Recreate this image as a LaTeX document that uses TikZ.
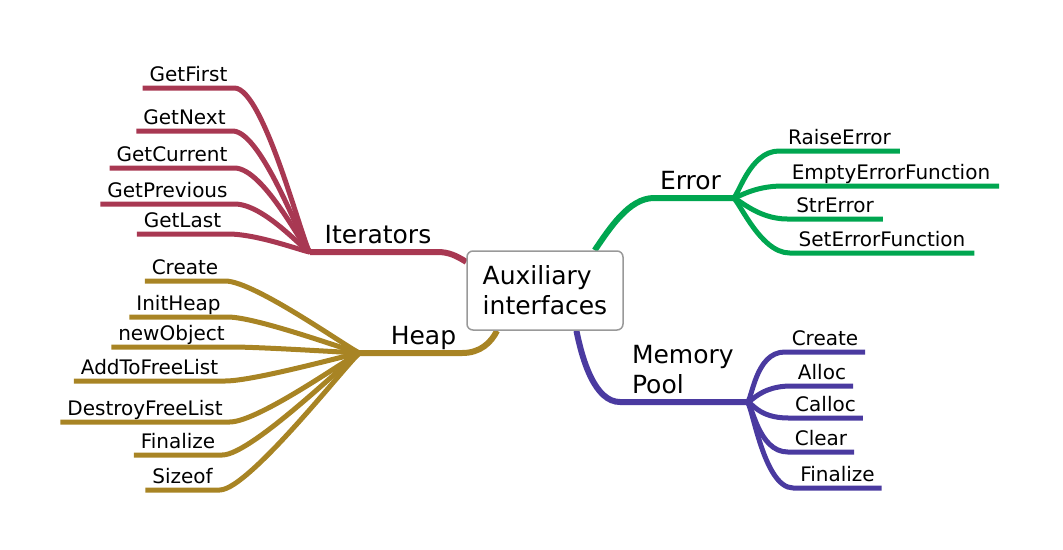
\documentclass[tikz,border=0pt]{standalone}
\usepackage{fontspec}
\setmainfont{DejaVu Sans}
\usetikzlibrary{backgrounds}
\begin{document}
\begin{tikzpicture}[x=1pt, y=-1pt, line cap=round,
		leaf/.style={font=\fontsize{20}{24}\selectfont, inner xsep=7pt, inner ysep=2pt, text depth=5pt, outer sep=0pt, anchor=south},
		branch/.style={font=\fontsize{25}{30}\selectfont, inner xsep=6pt, inner ysep=3pt, text depth=6pt, outer sep=0pt},
		root/.style={draw=gray!80, line width=1.5pt, rounded corners=6pt, fill=white, align=left, minimum width=156pt, minimum height=79pt, inner sep=0pt, font=\fontsize{25}{30}\selectfont},
		link/.style={line width=5pt},
		trunk/.style={line width=6pt}]
			\definecolor{iterc}{RGB}{168, 56, 82}
			\definecolor{heapc}{RGB}{168, 132, 36}
			\definecolor{errc}{RGB}{0, 166, 80}
			\definecolor{memc}{RGB}{74, 58, 160}
			\useasboundingbox (0,0) rectangle (1063,549);
			\node[root] (aux) at (545,290.5) {Auxiliary\\interfaces};
			% branches and their hubs
			\node[branch, anchor=south] (iter) at (378,252) {Iterators};
			\node[branch, anchor=south] (heap) at (423.5,353) {Heap};
			\node[branch, anchor=south] (err) at (690.5,198) {Error};
			\node[branch, anchor=south west, align=left, inner xsep=12pt] (mem) at (620,402) {Memory\\Pool};
			\coordinate (iterhub) at (310,252);
			\coordinate (heaphub) at (360,353);
			\coordinate (errhub) at (733,198);
			\coordinate (memhub) at (747,402);
			% leaves
			\node[leaf] (first) at (188.5,88) {GetFirst};
			\node[leaf] (next) at (184.5,131) {GetNext};
			\node[leaf] (current) at (172,168) {GetCurrent};
			\node[leaf] (previous) at (167.5,204) {GetPrevious};
			\node[leaf] (last) at (182.5,234) {GetLast};
			\node[leaf] (hcreate) at (185,281) {Create};
			\node[leaf] (initheap) at (178.5,317) {InitHeap};
			\node[leaf] (newobj) at (171.5,347) {newObject};
			\node[leaf] (addfree) at (149.5,381) {AddToFreeList};
			\node[leaf] (destroyfree) at (145,422) {DestroyFreeList};
			\node[leaf] (hfinalize) at (178,455) {Finalize};
			\node[leaf] (sizeof) at (182.5,490) {Sizeof};
			\node[leaf, inner xsep=9pt] (raise) at (839.5,151) {RaiseError};
			\node[leaf, inner xsep=9pt] (emptyerr) at (891,186) {EmptyErrorFunction};
			\node[leaf, inner xsep=9pt] (strerr) at (835,219) {StrError};
			\node[leaf, inner xsep=9pt] (seterr) at (882,253) {SetErrorFunction};
			\node[leaf] (mcreate) at (825,352) {Create};
			\node[leaf] (alloc) at (822,386) {Alloc};
			\node[leaf] (calloc) at (825.5,418) {Calloc};
			\node[leaf] (clear) at (821,452) {Clear};
			\node[leaf] (mfinalize) at (837.5,488) {Finalize};
			\begin{pgfonlayer}{background}
				\draw[trunk, iterc] (aux.160) .. controls +(-10,-6) and +(12,0) .. (iter.south east) -- (iterhub);
				\draw[trunk, heapc] (aux.220) .. controls +(-6,12) and +(18,0) .. (heap.south east) -- (heaphub);
				\draw[trunk, errc] (aux.39) .. controls +(15,-22) and +(-25,0) .. (err.south west) -- (errhub);
				\draw[trunk, memc] (aux.308) .. controls +(6,30) and +(-25,0) .. (mem.south west) -- (memhub);
				\foreach \n in {first, next, current, previous, last}
					\draw[link, iterc] (iterhub) .. controls +(-5,0) and +(30,0) .. (\n.south east) -- (\n.south west);
				\foreach \n in {hcreate, initheap, newobj, addfree, destroyfree, hfinalize, sizeof}
					\draw[link, heapc] (heaphub) .. controls +(-5,0) and +(30,0) .. (\n.south east) -- (\n.south west);
				\foreach \n in {raise, emptyerr, strerr, seterr}
					\draw[link, errc] (errhub) .. controls +(5,0) and +(-30,0) .. (\n.south west) -- (\n.south east);
				\foreach \n in {mcreate, alloc, calloc, clear, mfinalize}
					\draw[link, memc] (memhub) .. controls +(5,0) and +(-30,0) .. (\n.south west) -- (\n.south east);
			\end{pgfonlayer}
		\end{tikzpicture}
\end{document}
